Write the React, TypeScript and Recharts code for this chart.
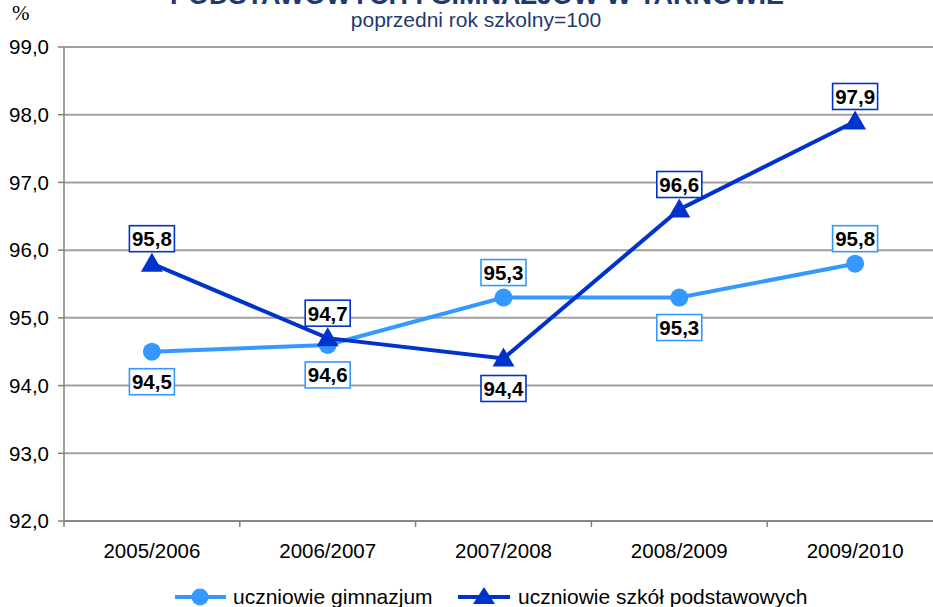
import React from 'react';
import { LineChart, Line, XAxis, YAxis, CartesianGrid, Legend, LabelList } from 'recharts';

const categories = ['2005/2006', '2006/2007', '2007/2008', '2008/2009', '2009/2010'];
const gimnazjum = [94.5, 94.6, 95.3, 95.3, 95.8];
const podstawowe = [95.8, 94.7, 94.4, 96.6, 97.9];
const yTicks = [92, 93, 94, 95, 96, 97, 98, 99];
const gimLabelSide = ['below', 'below', 'above', 'below', 'above'];
const podLabelSide = ['above', 'above', 'below', 'above', 'above'];
const seriesNames = ['uczniowie gimnazjum', 'uczniowie szkół podstawowych'];

const LIGHT = '#3399FF';
const DARK = '#0033CC';
const NAVY = '#1F3A6E';
const FONT = '"Liberation Sans", Arial, sans-serif';

const data = categories.map((c, i) => ({ idx: i, name: c, gim: gimnazjum[i], pod: podstawowe[i] }));
const xTicks: number[] = [];
for (let i = -0.5; i <= categories.length - 0.5 + 1e-9; i += 0.5) xTicks.push(i);

const fmt = (v: number) => v.toFixed(1).replace('.', ',');

const XTick = (props: any) => {
  const { x, y, payload } = props;
  const v = payload.value;
  if (Math.abs(v - Math.round(v)) > 1e-6) {
    return <line x1={x} x2={x} y1={y} y2={y + 6} stroke="#808080" strokeWidth={1.5} />;
  }
  return (
    <text x={x} y={y + 37} textAnchor="middle" fontSize={20.5} fontFamily={FONT} fill="#000">
      {categories[Math.round(v)]}
    </text>
  );
};

const makeLabel = (sides: string[], color: string) => (props: any) => {
  const { x, y, value, index } = props;
  const side = sides[index];
  const cy = side === 'above' ? y - 25 : y + 30;
  const w = 45;
  const h = 26;
  return (
    <g>
      <rect x={x - w / 2} y={cy - h / 2} width={w} height={h} fill="#fff" stroke={color} strokeWidth={1.6} />
      <text x={x} y={cy + 7.5} textAnchor="middle" fontSize={20.5} fontWeight="bold" fontFamily={FONT} fill="#000">
        {fmt(value)}
      </text>
    </g>
  );
};

const CircleDot = (props: any) => {
  const { cx, cy } = props;
  return <circle cx={cx} cy={cy} r={9} fill={LIGHT} stroke="none" />;
};

const TriDot = (props: any) => {
  const { cx, cy } = props;
  return <polygon points={`${cx},${cy - 11} ${cx + 11},${cy + 8} ${cx - 11},${cy + 8}`} fill={DARK} stroke="none" />;
};

const LegendContent = () => (
  <svg width={933} height={23} style={{ display: 'block', overflow: 'visible' }}>
    <line x1={175} x2={226} y1={13} y2={13} stroke={LIGHT} strokeWidth={4} />
    <circle cx={200} cy={13} r={8.5} fill={LIGHT} />
    <text x={233} y={19.5} fontSize={21} fontFamily={FONT} fill="#000">{seriesNames[0]}</text>
    <line x1={458} x2={510} y1={13} y2={13} stroke={DARK} strokeWidth={4} />
    <polygon points="484,3 495,20 473,20" fill={DARK} />
    <text x={518} y={19.5} fontSize={21} fontFamily={FONT} fill="#000">{seriesNames[1]}</text>
  </svg>
);

export default function App() {
  return (
    <div style={{ position: 'absolute', left: 0, top: 0, width: 933, height: 607, overflow: 'hidden', background: '#fff' }}>
      <LineChart width={960} height={607} data={data} margin={{ top: 47, right: 17, left: 0, bottom: 0 }}>
        <CartesianGrid vertical={false} stroke="#A0A0A0" strokeWidth={2} />
        <XAxis
          dataKey="idx"
          type="number"
          domain={[-0.5, categories.length - 0.5]}
          ticks={xTicks}
          interval={0}
          tick={<XTick />}
          tickLine={false}
          tickSize={0}
          tickMargin={0}
          axisLine={{ stroke: '#808080', strokeWidth: 1.5 }}
          height={63}
        />
        <YAxis
          domain={[92, 99]}
          ticks={yTicks}
          interval={0}
          width={64}
          tickFormatter={fmt}
          tickSize={6}
          tickMargin={9}
          tick={{ fontSize: 20.5, fill: '#000', fontFamily: FONT }}
          tickLine={{ stroke: '#808080', strokeWidth: 1.5 }}
          axisLine={{ stroke: '#808080', strokeWidth: 1.5 }}
        />
        <Legend
          verticalAlign="bottom"
          content={<LegendContent />}
          wrapperStyle={{ position: 'absolute', left: 0, top: 584, width: 933, height: 23 }}
        />
        <Line
          dataKey="gim"
          name={seriesNames[0]}
          stroke={LIGHT}
          strokeWidth={4}
          dot={<CircleDot />}
          activeDot={false}
          isAnimationActive={false}
        >
          <LabelList dataKey="gim" content={makeLabel(gimLabelSide, LIGHT)} />
        </Line>
        <Line
          dataKey="pod"
          name={seriesNames[1]}
          stroke={DARK}
          strokeWidth={4}
          dot={<TriDot />}
          activeDot={false}
          isAnimationActive={false}
        >
          <LabelList dataKey="pod" content={makeLabel(podLabelSide, DARK)} />
        </Line>
      </LineChart>
      <svg width={933} height={40} style={{ position: 'absolute', left: 0, top: 0, pointerEvents: 'none' }}>
        <text x={477} y={4} textAnchor="middle" fontSize={27} fontWeight="bold" fontFamily={FONT} fill={NAVY}>
          PODSTAWOWYCH I GIMNAZJÓW W TARNOWIE
        </text>
        <text x={476} y={27} textAnchor="middle" fontSize={21} fontFamily={FONT} fill={NAVY}>
          poprzedni rok szkolny=100
        </text>
        <text x={12} y={20} fontSize={21} fontFamily={'"Liberation Serif", "Times New Roman", serif'} fill="#000">
          %
        </text>
      </svg>
    </div>
  );
}
